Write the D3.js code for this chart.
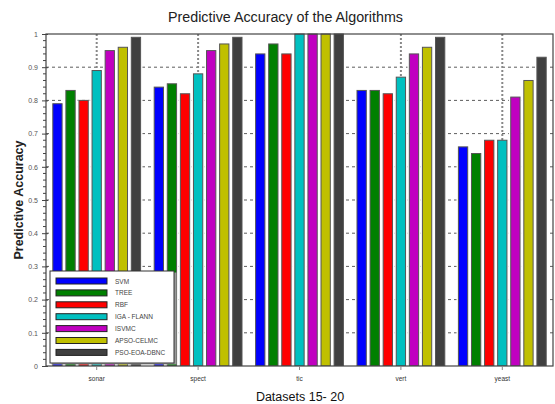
<!DOCTYPE html>
<html>
<head>
<meta charset="utf-8">
<script src="https://cdn.jsdelivr.net/npm/d3@7"></script>
<style>
  html, body { margin: 0; padding: 0; background: #fff; }
  svg { display: block; font-family: "Liberation Sans", Arial, sans-serif; }
</style>
</head>
<body>
<svg id="chart" width="555" height="404"></svg>
<script>
// Datasets and algorithms
const datasets = ["sonar", "spect", "tic", "vert", "yeast"];
const algorithms = ["SVM", "TREE", "RBF", "IGA - FLANN", "ISVMC", "APSO-CELMC", "PSO-EOA-DBNC"];
const colors = ["#0000ff", "#008000", "#ff0000", "#00c0c0", "#c000c0", "#c0c000", "#404040"];

// Accuracy per algorithm, one value per dataset
const svm   = [0.79, 0.84, 0.94, 0.83, 0.66];
const tree  = [0.83, 0.85, 0.97, 0.83, 0.64];
const rbf   = [0.80, 0.82, 0.94, 0.82, 0.68];
const iga   = [0.89, 0.88, 1.00, 0.87, 0.68];
const isvmc = [0.95, 0.95, 1.00, 0.94, 0.81];
const apso  = [0.96, 0.97, 1.00, 0.96, 0.86];
const pso   = [0.99, 0.99, 1.00, 0.99, 0.93];
const series = [svm, tree, rbf, iga, isvmc, apso, pso];

const yTicks = [0, 0.1, 0.2, 0.3, 0.4, 0.5, 0.6, 0.7, 0.8, 0.9, 1];

const svg = d3.select("#chart");
const m = { left: 46, right: 553, top: 34, bottom: 366 };

const x = d3.scaleBand().domain(datasets).range([m.left, m.right]).padding(0);
const xi = d3.scaleBand().domain(d3.range(algorithms.length))
  .range([0, x.bandwidth()]).paddingInner(0.29).paddingOuter(0.52);
const y = d3.scaleLinear().domain([0, 1]).range([m.bottom, m.top]);
const gap = xi.step() - xi.bandwidth();

// horizontal dashed grid
svg.append("g").selectAll("line").data(yTicks.slice(1, -1)).join("line")
  .attr("x1", m.left).attr("x2", m.right)
  .attr("y1", d => y(d)).attr("y2", d => y(d))
  .attr("stroke", "#333").attr("stroke-width", 0.8).attr("stroke-dasharray", "3,3");

// vertical dotted grid at dataset centres
svg.append("g").selectAll("line").data(datasets).join("line")
  .attr("x1", d => x(d) + x.bandwidth() / 2).attr("x2", d => x(d) + x.bandwidth() / 2)
  .attr("y1", m.top).attr("y2", m.bottom)
  .attr("stroke", "#888").attr("stroke-width", 2).attr("stroke-dasharray", "2,2");

const clip = svg.append("clipPath").attr("id", "plotclip").append("rect")
  .attr("x", m.left).attr("y", m.top - 1).attr("width", m.right - m.left).attr("height", m.bottom - m.top + 1);

// white backing behind each bar, so grid lines stop at the bars
const backG = svg.append("g").attr("clip-path", "url(#plotclip)");
series.forEach((vals, si) => {
  backG.append("g").selectAll("rect").data(vals).join("rect")
    .attr("x", (v, i) => x(datasets[i]) + xi(si) - gap / 2)
    .attr("y", v => y(v))
    .attr("width", xi.bandwidth() + gap)
    .attr("height", v => m.bottom - y(v))
    .attr("fill", "#fff");
});

// bars
const barsG = svg.append("g").attr("clip-path", "url(#plotclip)");
series.forEach((vals, si) => {
  barsG.append("g").selectAll("rect").data(vals).join("rect")
    .attr("x", (v, i) => x(datasets[i]) + xi(si))
    .attr("y", v => y(v))
    .attr("width", xi.bandwidth())
    .attr("height", v => m.bottom - y(v))
    .attr("fill", colors[si])
    .attr("stroke", "#555").attr("stroke-width", 1);
});

// plot frame
svg.append("rect").attr("x", m.left).attr("y", m.top)
  .attr("width", m.right - m.left).attr("height", m.bottom - m.top)
  .attr("fill", "none").attr("stroke", "#444").attr("stroke-width", 1.2);

// y axis with minor ticks
const yAxis = d3.axisLeft(y).tickValues(yTicks).tickSize(5).tickPadding(3)
  .tickFormat(d => d === 0 ? "0" : d === 1 ? "1" : d3.format(".1f")(d));
const yg = svg.append("g").attr("transform", `translate(${m.left},0)`).call(yAxis);
yg.select(".domain").remove();
yg.selectAll(".tick line").attr("stroke", "#444").attr("x2", -4).attr("x1", 2);
yg.selectAll(".tick text").attr("font-size", 7).attr("fill", "#555");
const minor = d3.range(0, 1.0001, 0.02).filter(v => Math.abs(v * 10 - Math.round(v * 10)) > 1e-6);
svg.append("g").selectAll("line").data(minor).join("line")
  .attr("x1", m.left - 3).attr("x2", m.left)
  .attr("y1", d => y(d)).attr("y2", d => y(d))
  .attr("stroke", "#444").attr("stroke-width", 1);

// x axis
const xAxis = d3.axisBottom(x).tickSize(4).tickPadding(6);
const xg = svg.append("g").attr("transform", `translate(0,${m.bottom})`).call(xAxis);
xg.select(".domain").remove();
xg.selectAll(".tick line").attr("stroke", "#888").attr("y1", 0).attr("y2", 4);
xg.selectAll(".tick text").attr("font-size", 6.5).attr("fill", "#333");

// titles
svg.append("text").attr("x", 168).attr("y", 22)
  .attr("font-size", 15.5).attr("fill", "#222")
  .attr("textLength", 235).attr("lengthAdjust", "spacingAndGlyphs")
  .text("Predictive Accuracy of the Algorithms");
svg.append("text").attr("x", 300).attr("y", 401).attr("text-anchor", "middle")
  .attr("font-size", 12.5).attr("fill", "#111").text("Datasets 15- 20");
svg.append("text").attr("transform", `translate(23,${(m.top + m.bottom) / 2}) rotate(-90)`)
  .attr("text-anchor", "middle").attr("font-size", 12.5).attr("font-weight", "bold")
  .attr("fill", "#222").text("Predictive Accuracy");

// legend
const lg = svg.append("g").attr("transform", "translate(50,271)");
lg.append("rect").attr("x", 1.5).attr("y", 1.5).attr("width", 125).attr("height", 92).attr("fill", "#999");
lg.append("rect").attr("width", 124).attr("height", 92).attr("fill", "#fff")
  .attr("stroke", "#333").attr("stroke-width", 1);
const rows = lg.selectAll("g.row").data(algorithms).join("g").attr("class", "row")
  .attr("transform", (d, i) => `translate(0,${10 + i * 11.9})`);
rows.append("rect").attr("x", 6).attr("y", -3).attr("width", 51).attr("height", 6)
  .attr("fill", (d, i) => colors[i]).attr("stroke", "#222").attr("stroke-width", 1);
rows.append("text").attr("x", 65).attr("y", 2.5).attr("font-size", 6.5).attr("fill", "#444")
  .text(d => d);
</script>
</body>
</html>
